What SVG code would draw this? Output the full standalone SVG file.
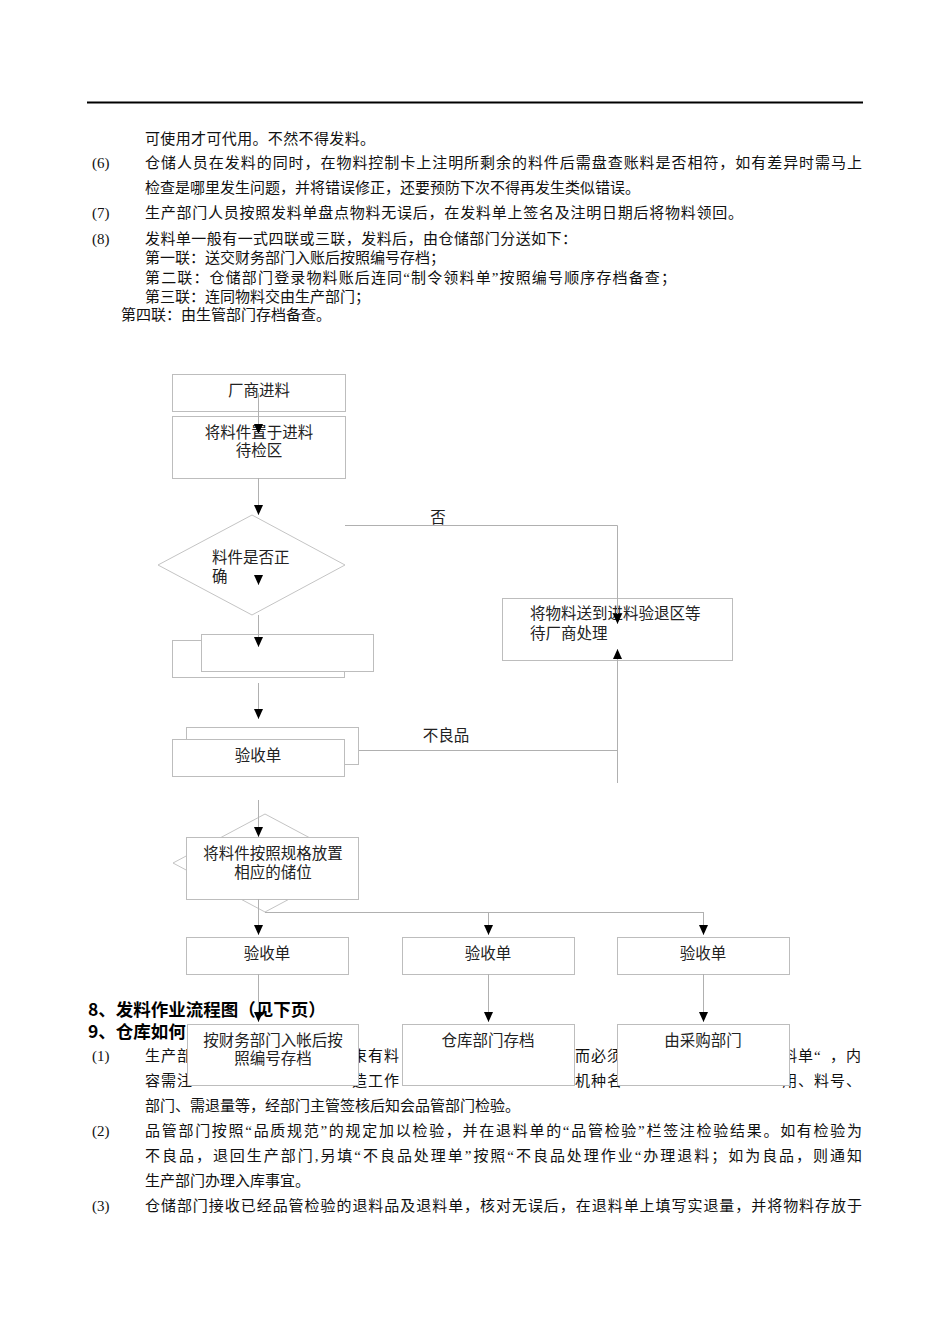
<svg xmlns="http://www.w3.org/2000/svg" width="950" height="1344" viewBox="0 0 950 1344">
<style>
  .t { font-family: "Liberation Serif", "Noto Sans CJK SC", serif; font-size: 15px; fill: #111; }
  .h { font-family: "Noto Sans CJK SC", "Liberation Sans", sans-serif; font-size: 17.5px; font-weight: bold; fill: #000; }
  .f { font-family: "Liberation Serif", "Noto Sans CJK SC", serif; font-size: 15.5px; fill: #222; }
  .m { text-anchor: middle; }
  .box { fill: #fff; stroke: #bdbdbd; stroke-width: 1; }
  .shape { fill: none; stroke: #c4c4c4; stroke-width: 1; }
  .ln { fill: none; stroke: #b0b0b0; stroke-width: 1; }
</style>
<defs>
  <marker id="ah" markerUnits="userSpaceOnUse" markerWidth="10" markerHeight="9" refX="10" refY="4.5" orient="auto">
    <path d="M0,0 L10,4.5 L0,9 Z" fill="#000"/>
  </marker>
</defs>
<rect width="950" height="1344" fill="#fff"/>
<line x1="87" y1="102.5" x2="863" y2="102.5" stroke="#000" stroke-width="2"/>

<g id="body-top">
  <text class="t" x="145" y="143.5" textLength="230" lengthAdjust="spacing">可使用才可代用。不然不得发料。</text>
  <text class="t" x="92" y="167.5">(6)</text>
  <text class="t" x="145" y="167.5" textLength="717" lengthAdjust="spacing">仓储人员在发料的同时，在物料控制卡上注明所剩余的料件后需盘查账料是否相符，如有差异时需马上</text>
  <text class="t" x="145" y="192.5">检查是哪里发生问题，并将错误修正，还要预防下次不得再发生类似错误。</text>
  <text class="t" x="92" y="217.5">(7)</text>
  <text class="t" x="145" y="217.5" textLength="598" lengthAdjust="spacing">生产部门人员按照发料单盘点物料无误后，在发料单上签名及注明日期后将物料领回。</text>
  <text class="t" x="92" y="243.5">(8)</text>
  <text class="t" x="145" y="243.5" textLength="432" lengthAdjust="spacing">发料单一般有一式四联或三联，发料后，由仓储部门分送如下：</text>
  <text class="t" x="145" y="262.5">第一联：送交财务部门入账后按照编号存档；</text>
  <text class="t" x="145" y="282.5" textLength="531" lengthAdjust="spacing">第二联：仓储部门登录物料账后连同“制令领料单”按照编号顺序存档备查；</text>
  <text class="t" x="145" y="301.5">第三联：连同物料交由生产部门；</text>
  <text class="t" x="121" y="319.5">第四联：由生管部门存档备查。</text>
</g>

<g id="body-bottom">
  <text class="h" x="88" y="1015.5">8、发料作业流程图（见下页）</text>
  <text class="h" x="88" y="1037.5">9、仓库如何</text>
  <text class="t" x="92" y="1060.5">(1)</text>
  <text class="t" x="145 161 177" y="1060.5">生产部</text>
  <text class="t" x="352.1 368 384" y="1060.5">束有料</text>
  <text class="t" x="575.1 591 607" y="1060.5">而必须</text>
  <text class="t" x="782.2 798.1 814 830 846" y="1060.5">料单“，内</text>
  <text class="t" x="145 161 177" y="1085.5">容需注</text>
  <text class="t" x="352.1 368 384" y="1085.5">造工作</text>
  <text class="t" x="575.1 591 607" y="1085.5">机种名</text>
  <text class="t" x="782.2 798.1 814 830 846" y="1085.5">用、料号、</text>
  <text class="t" x="145" y="1110.5">部门、需退量等，经部门主管签核后知会品管部门检验。</text>
  <text class="t" x="92" y="1135.5">(2)</text>
  <text class="t" x="145" y="1135.5" textLength="717" lengthAdjust="spacing">品管部门按照“品质规范”的规定加以检验，并在退料单的“品管检验”栏签注检验结果。如有检验为</text>
  <text class="t" x="145" y="1160.5" textLength="717" lengthAdjust="spacing">不良品，退回生产部门,另填“不良品处理单”按照“不良品处理作业“办理退料；如为良品，则通知</text>
  <text class="t" x="145" y="1185.5">生产部门办理入库事宜。</text>
  <text class="t" x="92" y="1210.5">(3)</text>
  <text class="t" x="145" y="1210.5" textLength="717" lengthAdjust="spacing">仓储部门接收已经品管检验的退料品及退料单，核对无误后，在退料单上填写实退量，并将物料存放于</text>
</g>

<g id="n-vendor">
  <rect class="box" x="172.5" y="374.5" width="173" height="37"/>
  <text class="f m" x="259" y="396">厂商进料</text>
</g>
<g id="n-place">
  <rect class="box" x="172.5" y="416.5" width="173" height="62"/>
  <text class="f m" x="259" y="438">将料件置于进料</text>
  <text class="f m" x="259" y="456">待检区</text>
</g>
<g id="n-check">
  <polygon class="shape" points="252,515 345,565 252,615 158,565"/>
  <text class="f" x="212" y="563">料件是否正</text>
  <text class="f" x="212" y="582">确</text>
</g>
<g id="n-blank">
  <rect class="box" x="172.5" y="640.5" width="172" height="37"/>
  <rect class="box" x="201.5" y="634.5" width="172" height="37"/>
</g>
<g id="n-return">
  <rect class="box" x="502.5" y="598.5" width="230" height="62"/>
  <text class="f" x="530" y="619">将物料送到进料验退区等</text>
  <text class="f" x="530" y="639">待厂商处理</text>
</g>
<g id="n-receipt1">
  <rect class="box" x="186.5" y="727.5" width="172" height="37"/>
  <rect class="box" x="172.5" y="739.5" width="172" height="37"/>
  <text class="f m" x="258" y="761">验收单</text>
</g>
<g id="n-store">
  <polygon class="shape" points="265,814 357,863 265,912 173,863"/>
  <rect class="box" x="186.5" y="837.5" width="172" height="62"/>
  <text class="f m" x="273" y="859">将料件按照规格放置</text>
  <text class="f m" x="273" y="878">相应的储位</text>
</g>
<g id="n-r-a">
  <rect class="box" x="186.5" y="937.5" width="162" height="37"/>
  <text class="f m" x="267" y="959">验收单</text>
</g>
<g id="n-r-b">
  <rect class="box" x="402.5" y="937.5" width="172" height="37"/>
  <text class="f m" x="488" y="959">验收单</text>
</g>
<g id="n-r-c">
  <rect class="box" x="617.5" y="937.5" width="172" height="37"/>
  <text class="f m" x="703" y="959">验收单</text>
</g>
<g id="n-finance">
  <rect class="box" x="187.5" y="1024.5" width="171" height="61"/>
  <text class="f m" x="273" y="1046">按财务部门入帐后按</text>
  <text class="f m" x="273" y="1064">照编号存档</text>
</g>
<g id="n-warehouse">
  <rect class="box" x="402.5" y="1024.5" width="172" height="61"/>
  <text class="f m" x="488" y="1046">仓库部门存档</text>
</g>
<g id="n-purchase">
  <rect class="box" x="617.5" y="1024.5" width="172" height="61"/>
  <text class="f m" x="703" y="1046">由采购部门</text>
</g>

<g id="connectors">
  <path class="ln" d="M258.5,393 V434" marker-end="url(#ah)"/>
  <path class="ln" d="M258.5,478 V515" marker-end="url(#ah)"/>
  <path class="ln" d="M258.5,577 V585" stroke="none" marker-end="url(#ah)"/>
  <path class="ln" d="M258.5,615 V647" marker-end="url(#ah)"/>
  <path class="ln" d="M258.5,683 V719" marker-end="url(#ah)"/>
  <path class="ln" d="M258.5,800 V837" marker-end="url(#ah)"/>
  <path class="ln" d="M345,525.5 H617.5 V624" marker-end="url(#ah)"/>
  <path class="ln" d="M617.5,783 V649" marker-end="url(#ah)"/>
  <path class="ln" d="M359,750.5 H617.5"/>
  <path class="ln" d="M265,912.5 H703.5"/>
  <path class="ln" d="M258.5,899 V935" marker-end="url(#ah)"/>
  <path class="ln" d="M488.5,912 V935" marker-end="url(#ah)"/>
  <path class="ln" d="M703.5,912 V935" marker-end="url(#ah)"/>
  <path class="ln" d="M258.5,974 V1022" marker-end="url(#ah)"/>
  <path class="ln" d="M488.5,974 V1022" marker-end="url(#ah)"/>
  <path class="ln" d="M703.5,974 V1022" marker-end="url(#ah)"/>
  <text class="f m" x="438" y="523">否</text>
  <text class="f m" x="446" y="741">不良品</text>
</g>
</svg>
